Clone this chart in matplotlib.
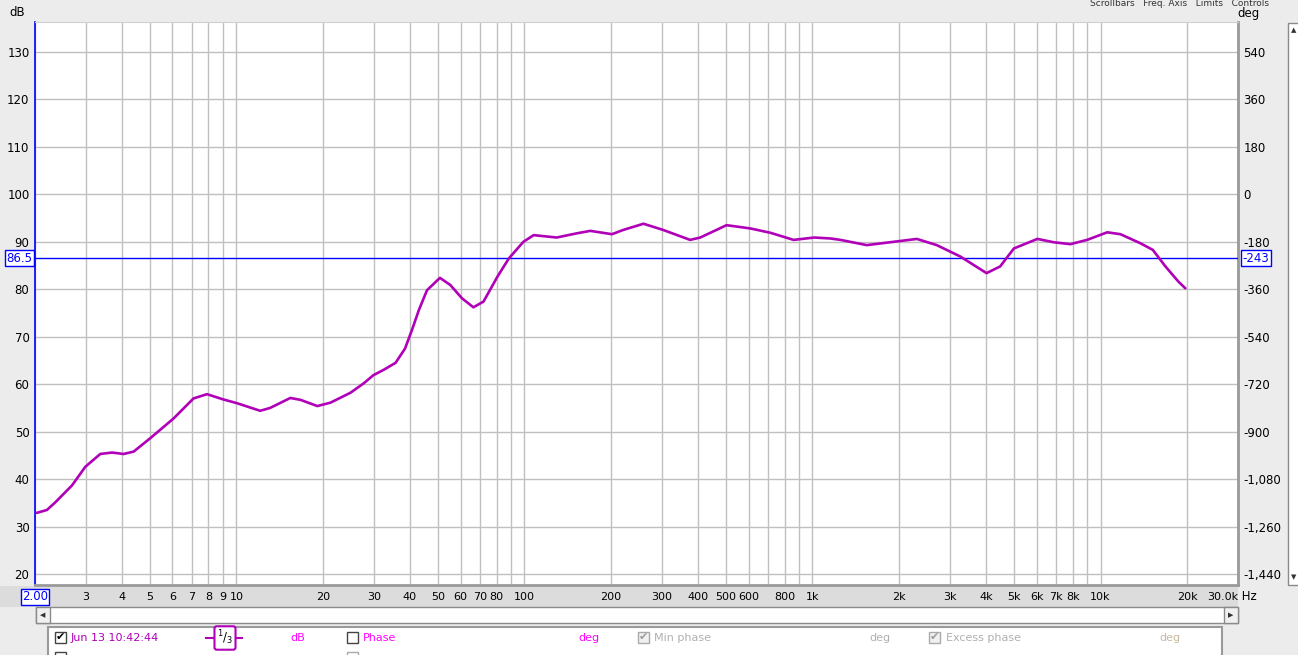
import numpy as np
import matplotlib.pyplot as plt
from matplotlib.patches import Rectangle
from matplotlib.transforms import blended_transform_factory

freq = [2.03, 2.2, 2.36, 2.69, 2.99, 3.37, 3.7, 4.06, 4.4, 5.02, 6.06, 7.1, 7.91, 9.0,
        10.05, 12.1, 13.1, 15.4, 16.7, 19.1, 21.2, 24.9, 27.7, 29.9, 32.4, 35.7, 38.5,
        40.8, 43.0, 45.9, 50.9, 55.3, 60.7, 66.5, 72.1, 80.5, 88.3, 99.2, 107.7, 129.5,
        152.5, 169.4, 201.3, 220.4, 259, 303, 376, 408, 503, 610, 714, 860, 1014, 1154,
        1250, 1544, 1916, 2303, 2700, 3259, 4020, 4480, 5003, 6034, 6882, 7860, 8980,
        10550, 11720, 13740, 15180, 16800, 18640, 19700]
spl = [32.9, 33.5, 35.2, 38.7, 42.6, 45.3, 45.6, 45.3, 45.8, 48.6, 52.8, 57.0, 57.9, 56.8,
       56.0, 54.4, 55.0, 57.1, 56.7, 55.4, 56.1, 58.2, 60.2, 61.9, 63.0, 64.5, 67.5,
       71.6, 75.6, 79.8, 82.4, 80.9, 78.1, 76.2, 77.4, 82.6, 86.5, 90.0, 91.4, 90.9,
       91.8, 92.3, 91.6, 92.5, 93.8, 92.5, 90.4, 90.9, 93.5, 92.8, 91.9, 90.4, 90.9, 90.7,
       90.4, 89.3, 90.0, 90.6, 89.3, 86.9, 83.4, 84.8, 88.6, 90.6, 89.9, 89.5, 90.4,
       92.0, 91.6, 89.7, 88.3, 84.8, 81.6, 80.2]

cursor_db = 86.5
db_ticks = list(range(20, 131, 10))
deg_ticks = list(range(540, -1441, -180))
xlab_freqs = [3, 4, 5, 6, 7, 8, 9, 10, 20, 30, 40, 50, 60, 70, 80, 100, 200, 300, 400, 500,
              600, 800, 1000, 2000, 3000, 4000, 5000, 6000, 7000, 8000, 10000, 20000]
xlab_text = ['3', '4', '5', '6', '7', '8', '9', '10', '20', '30', '40', '50', '60', '70', '80',
             '100', '200', '300', '400', '500', '600', '800', '1k', '2k', '3k', '4k', '5k',
             '6k', '7k', '8k', '10k', '20k']

W, H = 1298, 655
fig = plt.figure(figsize=(W/100, H/100), dpi=100, facecolor='#ececec')

def px(x, y):
    return x/W, 1 - y/H

def box(x0, y0, x1, y1, fc, ec='none', lw=1, z=0):
    fig.patches.append(Rectangle(px(x0, y1), (x1-x0)/W, (y1-y0)/H, transform=fig.transFigure,
                                 fc=fc, ec=ec, lw=lw, zorder=z))

# grey band behind the frequency labels
box(0, 586, 1238, 607, '#dcdcdc', z=-5)

# plot area
L, R, T, B = 35, 1238, 22, 585
ax = fig.add_axes([L/W, 1 - B/H, (R-L)/W, (B-T)/H])
ax.set_xscale('log')
ax.set_xlim(2, 30000)
ax.set_ylim(17.7, 136.3)
ax.set_facecolor('white')

grid_f = [m*10**d for d in range(0, 5) for m in range(1, 10) if 2 <= m*10**d <= 30000]
for f in grid_f:
    ax.axvline(f, color='#c0c0c0', lw=1, zorder=1)
for d in db_ticks:
    ax.axhline(d, color='#c0c0c0', lw=1, zorder=1)

ax.axhline(cursor_db, color='#0000ff', lw=1, zorder=3)
ax.plot(freq, spl, color='#b000b8', lw=1.9, zorder=4, solid_joinstyle='round',
        solid_capstyle='round')

ax.set_xticks([])
ax.set_xticks([], minor=True)
ax.set_yticks(db_ticks)
ax.set_yticklabels([str(d) for d in db_ticks], fontsize=8.5)
ax.tick_params(axis='y', length=0, pad=4)

ax.spines['top'].set_color('#d0d0d0')
for s in ['right', 'bottom']:
    ax.spines[s].set_color('#9a9a9a')
    ax.spines[s].set_linewidth(2)
ax.spines['left'].set_color('#0000ff')
ax.spines['left'].set_linewidth(1.2)

# right phase axis
ax2 = ax.twinx()
ax2.set_ylim((17.7 - 100) * 18, (136.3 - 100) * 18)
ax2.set_yticks(deg_ticks)
ax2.set_yticklabels(['{:,}'.format(d) for d in deg_ticks], fontsize=8.5)
ax2.tick_params(axis='y', length=0, pad=4)
for s in ax2.spines.values():
    s.set_visible(False)

# x labels under the plot
tr = blended_transform_factory(ax.transData, ax.transAxes)
for f, t in zip(xlab_freqs, xlab_text):
    ax.text(f, -0.021, t, transform=tr, ha='center', va='center', fontsize=8,
            clip_on=False)
ax.text(30000, -0.021, '30.0k', transform=tr, ha='right', va='center', fontsize=8)
ax.text(30000, -0.021, ' Hz', transform=tr, ha='left', va='center', fontsize=8.5)
ax.text(2, -0.021, '2.00', transform=tr, ha='center', va='center', fontsize=8.5,
        color='#0000ff', bbox=dict(boxstyle='square,pad=0.12', fc='white', ec='#0000ff', lw=1))

# cursor value boxes
trc = blended_transform_factory(ax.transAxes, ax.transData)
ax.text(-0.002, cursor_db, '86.5', transform=trc, ha='right', va='center', fontsize=8.5,
        color='#0000ff', bbox=dict(boxstyle='square,pad=0.12', fc='white', ec='#0000ff', lw=1))
ax.text(1.004, cursor_db, '-243', transform=trc, ha='left', va='center', fontsize=8.5,
        color='#0000ff', bbox=dict(boxstyle='square,pad=0.12', fc='white', ec='#0000ff', lw=1))

fig.text(*px(17, 12), 'dB', fontsize=8.5, ha='center', va='center')
fig.text(*px(1249, 13), 'deg', fontsize=8.5, ha='center', va='center')
fig.text(*px(1090, 4), 'Scrollbars   Freq. Axis   Limits   Controls', fontsize=6.5,
         ha='left', va='center', color='#333333')

# scrollbars
box(36, 607, 1238, 623, 'white', ec='#8a8a8a')
box(36, 607, 50, 623, '#f0f0f0', ec='#8a8a8a')
box(1224, 607, 1238, 623, '#f0f0f0', ec='#8a8a8a')
fig.text(*px(43, 615), '◀', fontsize=5, ha='center', va='center', color='#333333')
fig.text(*px(1231, 615), '▶', fontsize=5, ha='center', va='center', color='#333333')
box(1288, 23, 1300, 585, 'white', ec='#8a8a8a')
fig.text(*px(1294, 30), '▲', fontsize=5, ha='center', va='center', color='#333333')
fig.text(*px(1294, 577), '▼', fontsize=5, ha='center', va='center', color='#333333')

# legend panel
box(48, 627, 1222, 660, 'white', ec='#9a9a9a', lw=1.5)
box(55, 632, 66, 643, 'white', ec='#444444', z=1)
fig.text(*px(60.5, 637), '✔', fontsize=8, ha='center', va='center', color='black')
fig.text(*px(71, 638), 'Jun 13 10:42:44', fontsize=8, ha='left', va='center', color='#b000b8')
fig.lines.append(plt.Line2D([206/W, 242/W], [1-638/H, 1-638/H], transform=fig.transFigure,
                            color='#b000b8', lw=1.5, zorder=2))
fig.text(*px(225, 638), r'$^1/_3$', fontsize=8.5, ha='center', va='center', color='black',
         zorder=3, bbox=dict(boxstyle='round,pad=0.2', fc='white', ec='#b000b8', lw=1.5))
fig.text(*px(298, 638), 'dB', fontsize=8, ha='center', va='center', color='#ff00ff')
box(347, 632, 358, 643, 'white', ec='#444444', z=1)
fig.text(*px(363, 638), 'Phase', fontsize=8, ha='left', va='center', color='#ff00ff')
fig.text(*px(589, 638), 'deg', fontsize=8, ha='center', va='center', color='#ff00ff')
box(638, 632, 649, 643, '#f0f0f0', ec='#aaaaaa', z=1)
fig.text(*px(643.5, 637), '✔', fontsize=8, ha='center', va='center', color='#999999')
fig.text(*px(654, 638), 'Min phase', fontsize=8, ha='left', va='center', color='#b0b0b0')
fig.text(*px(880, 638), 'deg', fontsize=8, ha='center', va='center', color='#b0b0b0')
box(929, 632, 940, 643, '#f0f0f0', ec='#aaaaaa', z=1)
fig.text(*px(934.5, 637), '✔', fontsize=8, ha='center', va='center', color='#999999')
fig.text(*px(946, 638), 'Excess phase', fontsize=8, ha='left', va='center', color='#b0b0b0')
fig.text(*px(1170, 638), 'deg', fontsize=8, ha='center', va='center', color='#c8b8a0')
box(55, 652, 66, 662, 'white', ec='#444444', z=1)
box(347, 652, 358, 662, 'white', ec='#aaaaaa', z=1)

fig.savefig('out.png', dpi=100, facecolor=fig.get_facecolor())
